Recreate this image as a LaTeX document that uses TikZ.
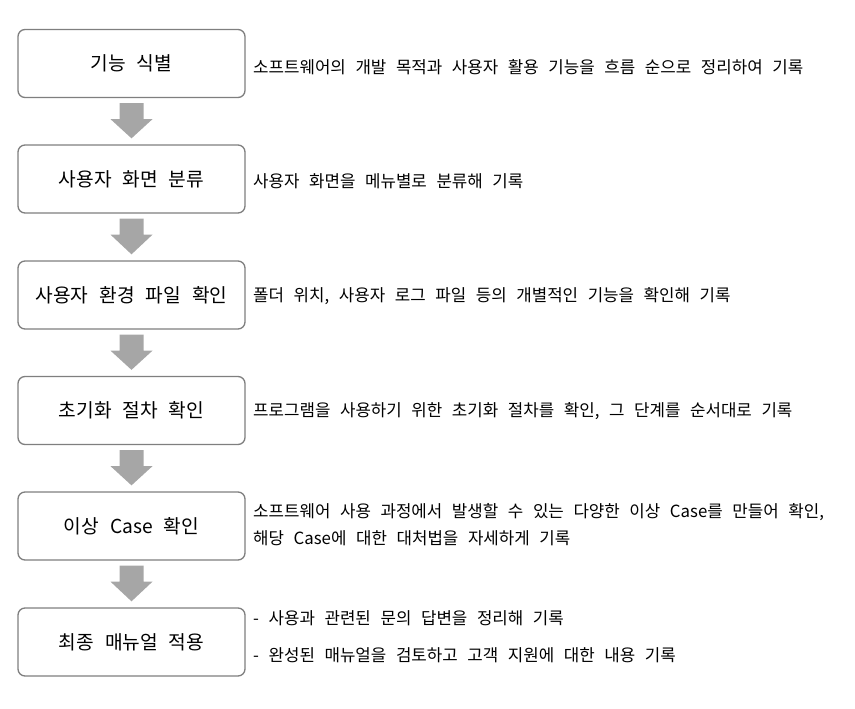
\documentclass[tikz,border=0pt]{standalone}
\usepackage{fontspec}
\setmainfont{Noto Sans CJK KR}
\newfontfamily\boxfont[WordSpace={2.2,0,0}]{Noto Sans CJK KR}
\newfontfamily\descfont[WordSpace={2.55,0,0}]{Noto Sans CJK KR}
\usetikzlibrary{calc}
\definecolor{boxline}{HTML}{7F7F7F}
\definecolor{arrowfill}{HTML}{A6A6A6}
\tikzset{
  stepbox/.style={draw=boxline, line width=1.3pt, rounded corners=7pt, fill=white,
    minimum width=227pt, minimum height=68pt, inner sep=0pt, font=\boxfont\fontsize{19.2pt}{22pt}\selectfont},
  desc/.style={anchor=west, inner sep=0pt, align=left, font=\descfont\fontsize{16.8pt}{27.5pt}\selectfont},
  blockarrow/.style={fill=arrowfill, draw=none},
}
\newcommand{\flowarrow}[2]{%
  \fill[blockarrow] ($(#1.south)+(-12,5)$) -- ($(#1.south)+(12,5)$) -- ($(#1.south)+(12,21)$)
    -- ($(#1.south)+(21,21)$) -- ($(#2.north)+(0,-6)$) -- ($(#1.south)+(-21,21)$)
    -- ($(#1.south)+(-12,21)$) -- cycle;}
\begin{document}
\begin{tikzpicture}[x=1pt,y=-1pt]
\useasboundingbox (0,0) rectangle (855,709);
\node[stepbox] (b1) at (131.5,63.5) {기능 식별};
\node[stepbox] (b2) at (131.5,179) {사용자 화면 분류};
\node[stepbox] (b3) at (131.5,295) {사용자 환경 파일 확인};
\node[stepbox] (b4) at (131.5,410.5) {초기화 절차 확인};
\node[stepbox] (b5) at (131.5,526) {이상 Case 확인};
\node[stepbox] (b6) at (131.5,642) {최종 매뉴얼 적용};
\flowarrow{b1}{b2}
\flowarrow{b2}{b3}
\flowarrow{b3}{b4}
\flowarrow{b4}{b5}
\flowarrow{b5}{b6}
\node[desc] (d1) at (253,67) {소프트웨어의 개발 목적과 사용자 활용 기능을 흐름 순으로 정리하여 기록};
\node[desc] (d2) at (253,181) {사용자 화면을 메뉴별로 분류해 기록};
\node[desc] (d3) at (253,296) {폴더 위치, 사용자 로그 파일 등의 개별적인 기능을 확인해 기록};
\node[desc] (d4) at (253,411) {프로그램을 사용하기 위한 초기화 절차를 확인, 그 단계를 순서대로 기록};
\node[desc] (d5) at (253,524.5) {소프트웨어 사용 과정에서 발생할 수 있는 다양한 이상 Case를 만들어 확인,\\해당 Case에 대한 대처법을 자세하게 기록};
\node[desc] (d6a) at (253,618) {- 사용과 관련된 문의 답변을 정리해 기록};
\node[desc] (d6b) at (253,655) {- 완성된 매뉴얼을 검토하고 고객 지원에 대한 내용 기록};
\end{tikzpicture}
\end{document}
